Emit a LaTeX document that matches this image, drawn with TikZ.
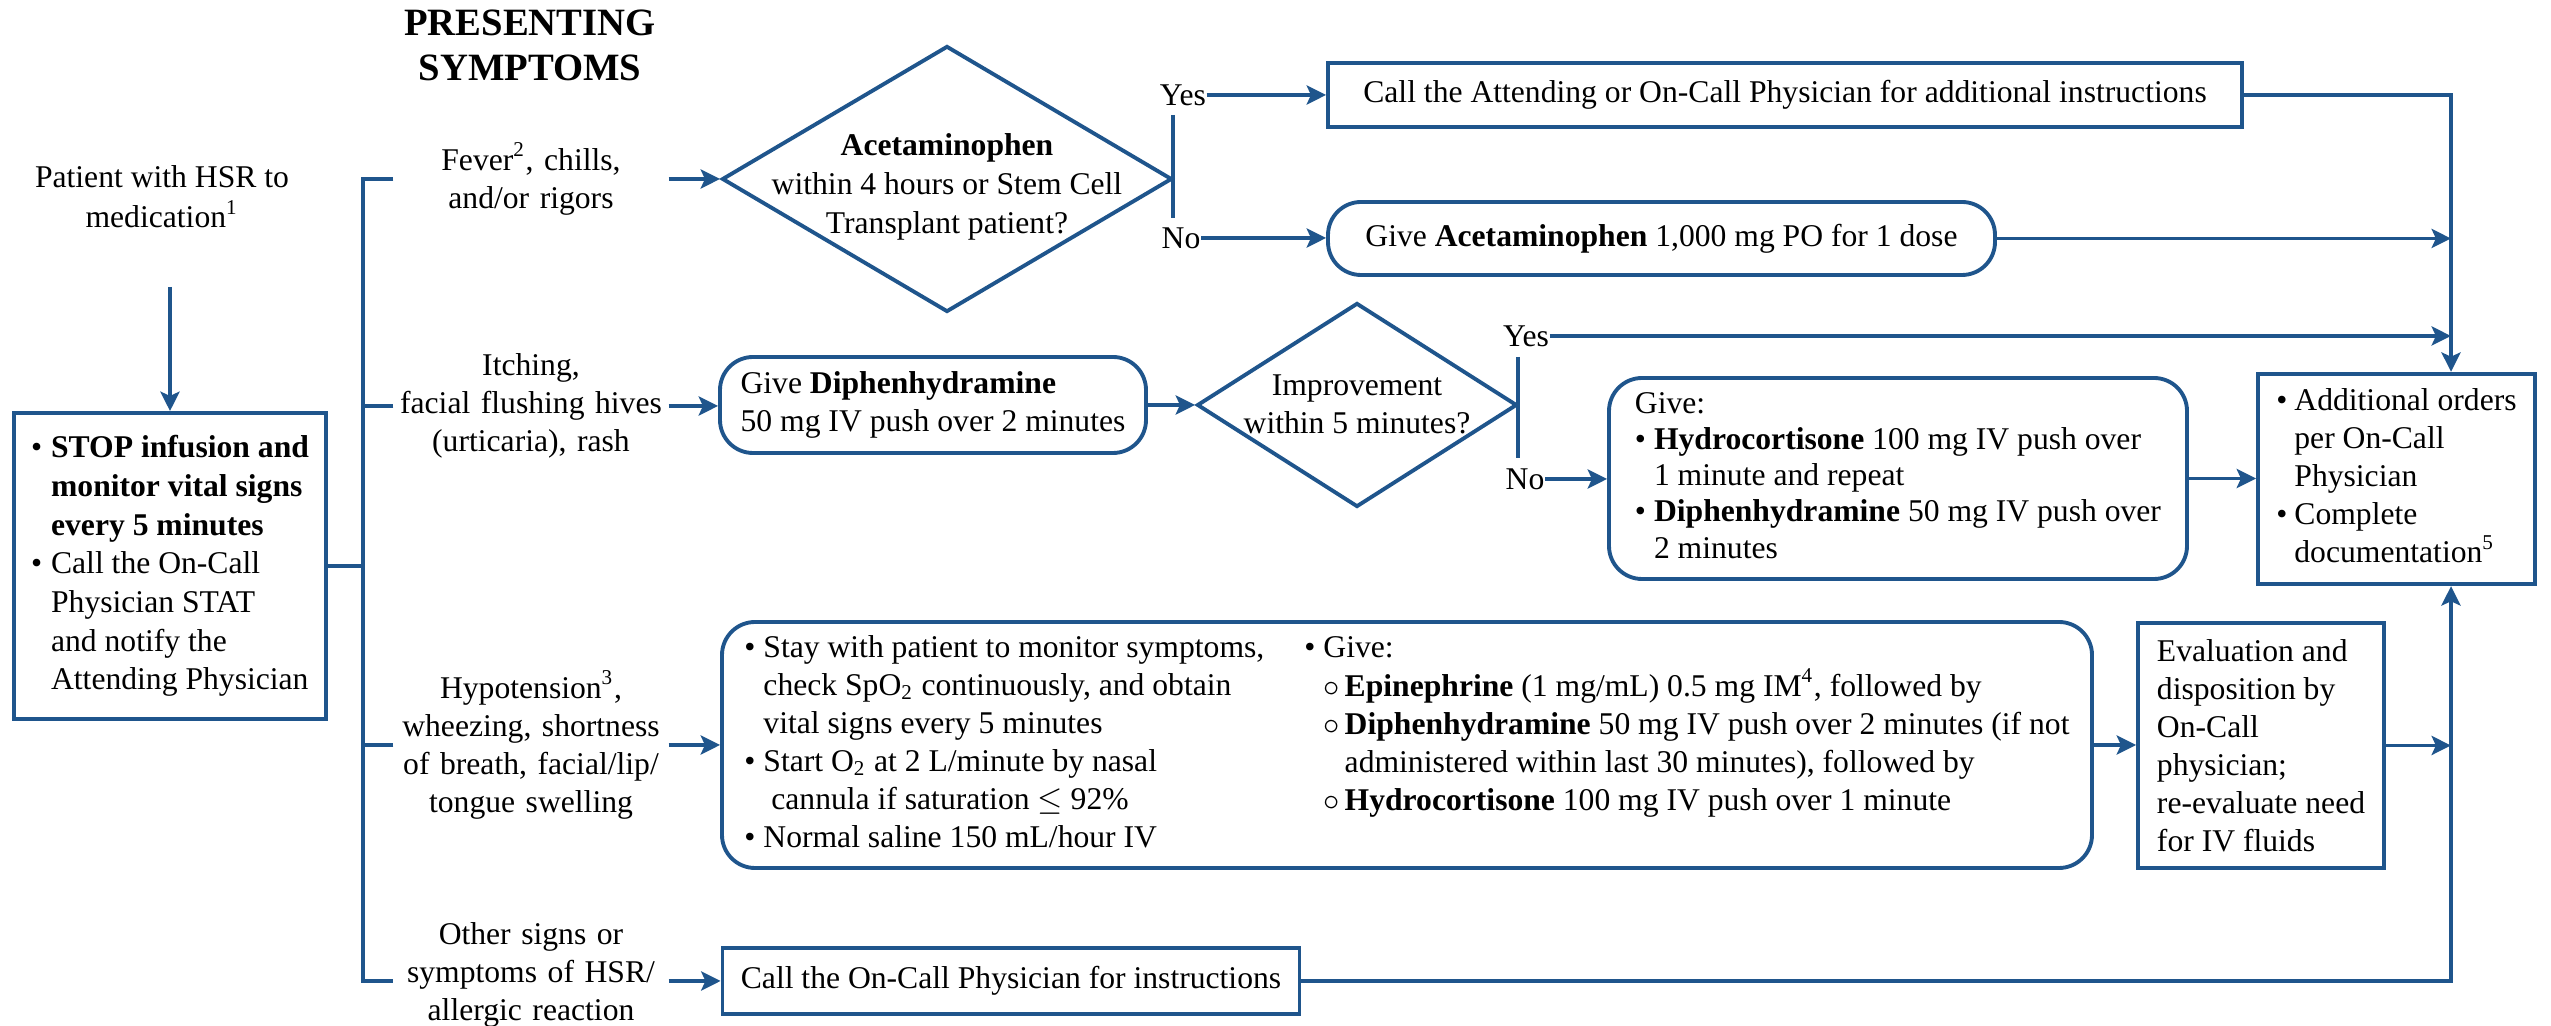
\documentclass[tikz,border=0pt]{standalone}
\usepackage{fontspec}
\setmainfont{Liberation Serif}
\usetikzlibrary{arrows.meta,shapes.geometric}
\definecolor{hsrblue}{RGB}{31,85,140}

\begin{document}
\begin{tikzpicture}[x=1cm,y=-1cm,
  font=\fontsize{9}{10.8}\selectfont,
  line/.style={draw=hsrblue,line width=1.1pt},
  arr/.style={line,-{Stealth[length=5.5pt,width=5.4pt,inset=1.2pt]}},
  box/.style={draw=hsrblue,line width=1.1pt,inner sep=0.1cm},
  roundbox/.style={box,rounded corners=0.33cm},
  ask/.style={diamond,draw=hsrblue,line width=1.1pt,inner sep=0pt},
  sym/.style={text width=2.7cm,align=center,inner sep=0.02cm},
  yn/.style={inner sep=0pt}]
\useasboundingbox (0,0) rectangle (25.51,10.26);

\node[font=\fontsize{11}{12.8}\selectfont\bfseries,align=center] (title) at (5.30,0.45) {PRESENTING\\SYMPTOMS};
\node[align=center,font=\fontsize{9}{11.4}\selectfont] (patient) at (1.62,1.97) {Patient with HSR to\\medication\textsuperscript{1}};
\node[box,font=\fontsize{9}{11}\selectfont,minimum width=3.12cm,minimum height=3.06cm] (stop) at (1.70,5.66) {%
\begin{tabular}{@{}l@{\hspace{0.09cm}}l@{}}
\textbullet & \textbf{STOP infusion and}\\
 & \textbf{monitor vital signs}\\
 & \textbf{every 5 minutes}\\
\textbullet & Call the On-Call\\
 & Physician STAT\\
 & and notify the\\
 & Attending Physician
\end{tabular}};
\coordinate (patbot) at (1.70,2.87);
\draw[arr] (patbot) -- (stop.north);

\node[sym] (fever) at (5.31,1.79) {Fever\textsuperscript{2}, chills,\\and/or rigors};
\node[sym] (itch) at (5.31,4.06) {Itching,\\facial flushing hives\\(urticaria), rash};
\node[sym] (hypot) at (5.31,7.45) {Hypotension\textsuperscript{3},\\wheezing, shortness\\of breath, facial/lip/\\tongue swelling};
\node[sym] (other) at (5.31,9.75) {Other signs or\\symptoms of HSR/\\allergic reaction};

\coordinate (busT) at (3.63,1.79);
\coordinate (busB) at (3.63,9.81);
\draw[line] (fever.west) -- (busT) -- (busB) -- (busB -| other.west);
\draw[line] (itch.west) -- (itch.west -| busT);
\draw[line] (hypot.west) -- (hypot.west -| busT);
\draw[line] (stop.east) -- (stop.east -| busT);

\node[ask,minimum width=4.5cm,minimum height=2.66cm] (acet) at (9.47,1.79) {};
\node[align=center,font=\fontsize{9}{11.2}\selectfont] (acettxt) at (9.47,1.87) {\textbf{Acetaminophen}\\within 4 hours or Stem Cell\\Transplant patient?};
\draw[arr] (fever.east) -- (acet.west);
\coordinate (acetY) at (11.73,1.15);
\coordinate (acetN) at (11.73,2.18);
\draw[line] (acetY) -- (acetN);
\node[yn] (yes1) at (11.83,0.95) {Yes};
\node[yn] (no1) at (11.81,2.38) {No};
\node[box,minimum width=9.14cm,minimum height=0.64cm] (callatt) at (17.85,0.95) {Call the Attending or On-Call Physician for additional instructions};
\node[roundbox,minimum width=6.67cm,minimum height=0.73cm] (giveacet) at (16.615,2.385) {Give \textbf{Acetaminophen} 1,000 mg PO for 1 dose};
\draw[arr] (yes1.east) -- (callatt.west);
\draw[arr] (no1.east) -- (no1.east -| giveacet.west);

\node[roundbox,align=left,minimum width=4.26cm,minimum height=0.96cm] (diph) at (9.33,4.05) {Give \textbf{Diphenhydramine}\\50 mg IV push over 2 minutes};
\draw[arr] (itch.east) -- (itch.east -| diph.west);
\node[ask,minimum width=3.2cm,minimum height=2.04cm] (impr) at (13.57,4.05) {};
\node[align=center] (imprtxt) at (13.57,4.04) {Improvement\\within 5 minutes?};
\draw[arr] (diph.east) -- (impr.west);
\coordinate (imprY) at (15.18,3.57);
\coordinate (imprN) at (15.18,4.58);
\draw[line] (imprY) -- (imprN);
\node[yn] (yes2) at (15.26,3.36) {Yes};
\node[yn] (no2) at (15.25,4.79) {No};
\node[roundbox,font=\fontsize{9}{10.3}\selectfont,minimum width=5.78cm,minimum height=1.93cm] (givehc) at (18.98,4.785) {%
\begin{tabular}{@{}l@{\hspace{0.08cm}}l@{}}
\multicolumn{2}{@{}l@{}}{Give:}\\
\textbullet & \textbf{Hydrocortisone} 100 mg IV push over\\
 & 1 minute and repeat\\
\textbullet & \textbf{Diphenhydramine} 50 mg IV push over\\
 & 2 minutes
\end{tabular}};
\draw[arr] (no2.east) -- (no2.east -| givehc.west);

\node[box,minimum width=2.77cm,minimum height=2.02cm] (addl) at (23.965,4.79) {%
\begin{tabular}{@{}l@{\hspace{0.07cm}}l@{}}
\textbullet & Additional orders\\
 & per On-Call\\
 & Physician\\
\textbullet & Complete\\
 & documentation\textsuperscript{5}
\end{tabular}};
\draw[arr] (givehc.east) -- (givehc.east -| addl.west);

\coordinate (railT) at (24.51,0.95);
\coordinate (railB) at (24.51,9.81);
\draw[arr] (callatt.east) -- (railT) -- (railT |- addl.north);
\draw[arr] (giveacet.east) -- (giveacet.east -| railT);
\draw[arr] (yes2.east) -- (yes2.east -| railT);

\node[roundbox,inner sep=0.08cm,minimum width=13.7cm,minimum height=2.46cm] (hypo) at (14.07,7.45) {%
\makebox[5.6cm][l]{\begin{tabular}[t]{@{}l@{\hspace{0.08cm}}l@{}}
\textbullet & Stay with patient to monitor symptoms,\\
 & check SpO\textsubscript{2} continuously, and obtain\\
 & vital signs every 5 minutes\\
\textbullet & Start O\textsubscript{2} at 2 L/minute by nasal\\
 & \ cannula if saturation $\le$ 92\%\\
\textbullet & Normal saline 150 mL/hour IV
\end{tabular}}%
\begin{tabular}[t]{@{}l@{\hspace{0.08cm}}l@{\hspace{0.05cm}}l@{}}
\textbullet & \multicolumn{2}{@{}l@{}}{Give:}\\
 & $\circ$ & \textbf{Epinephrine} (1 mg/mL) 0.5 mg IM\textsuperscript{4}, followed by\\
 & $\circ$ & \textbf{Diphenhydramine} 50 mg IV push over 2 minutes (if not\\
 & & administered within last 30 minutes), followed by\\
 & $\circ$ & \textbf{Hydrocortisone} 100 mg IV push over 1 minute
\end{tabular}};
\draw[arr] (hypot.east) -- (hypot.east -| hypo.west);
\node[box,align=left,minimum width=2.46cm,minimum height=2.45cm] (evalbox) at (22.61,7.455) {Evaluation and\\disposition by\\On-Call\\physician;\\re-evaluate need\\for IV fluids};
\draw[arr] (hypo.east) -- (hypo.east -| evalbox.west);
\draw[arr] (evalbox.east) -- (evalbox.east -| railT);

\node[box,minimum width=5.77cm,minimum height=0.66cm] (oncall) at (10.11,9.81) {Call the On-Call Physician for instructions};
\draw[arr] (oncall.west -| other.east) -- (oncall.west);
\draw[arr] (oncall.east) -- (railB) -- (railB |- addl.south);
\end{tikzpicture}
\end{document}
